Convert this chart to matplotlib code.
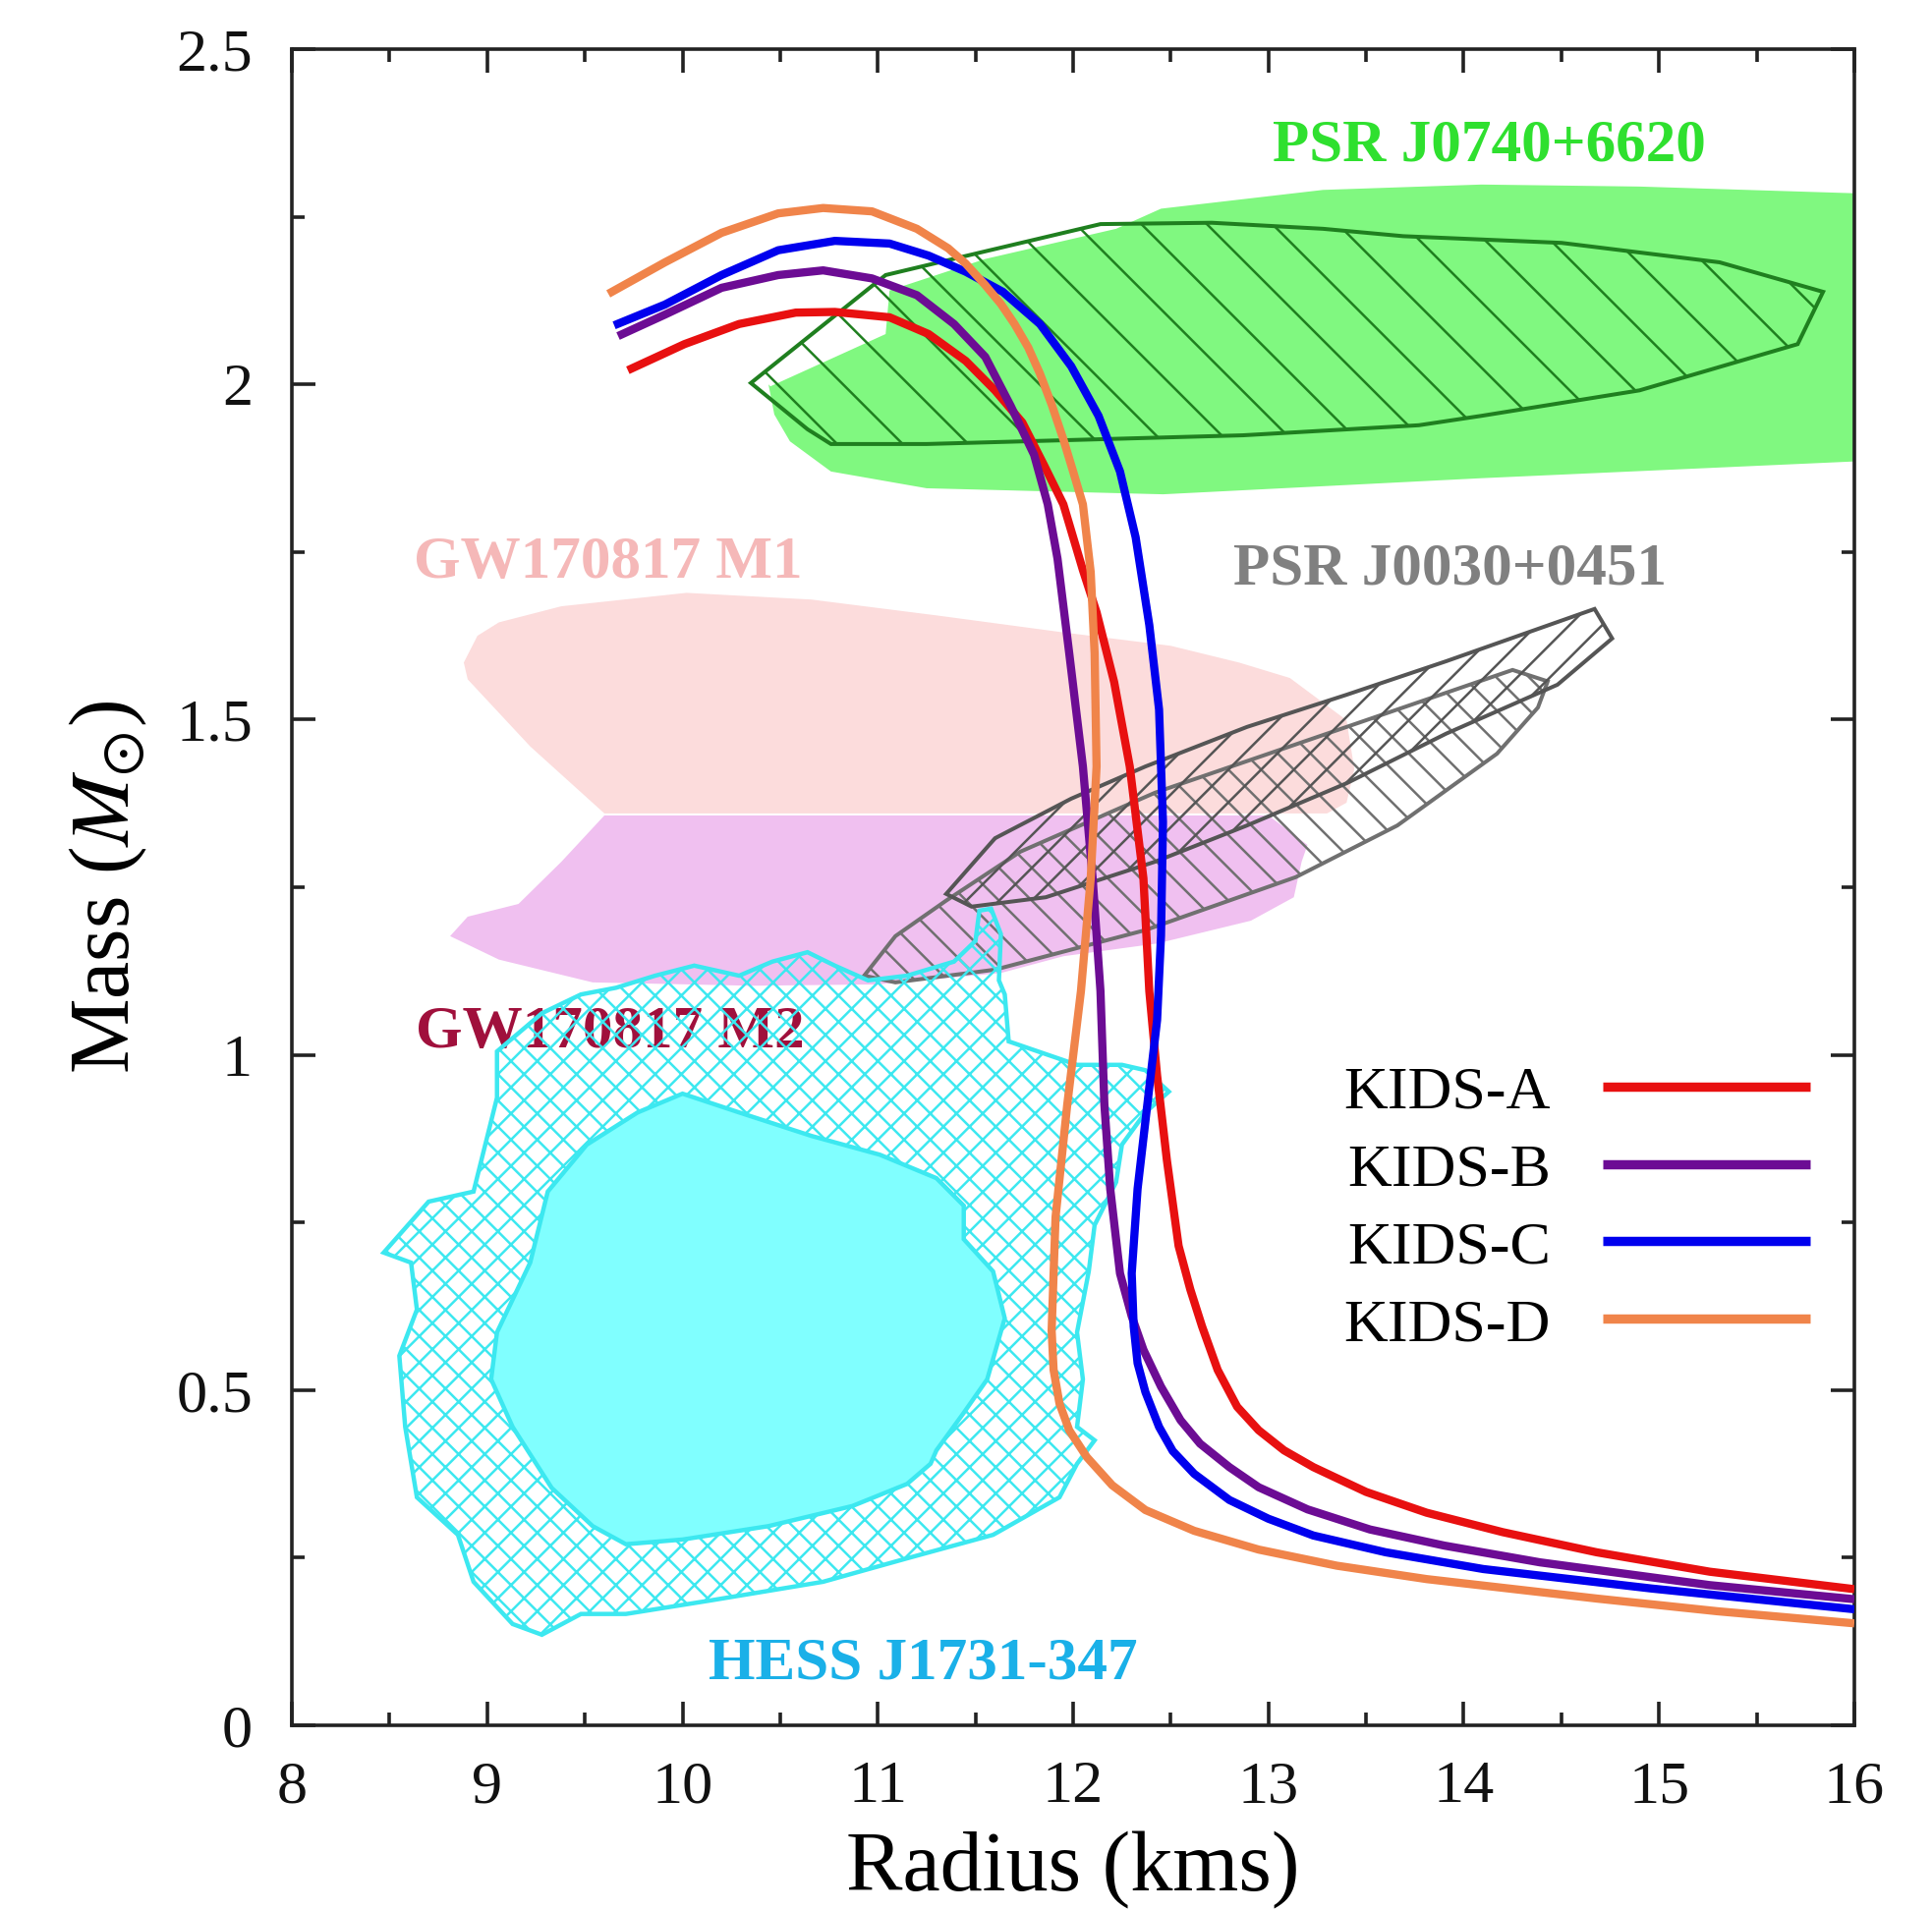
import matplotlib
matplotlib.use("Agg")
import matplotlib.pyplot as plt
from matplotlib.patches import Polygon
import numpy as np

plt.rcParams['font.family'] = ['Liberation Serif', 'DejaVu Serif']
plt.rcParams['mathtext.fontset'] = 'stix'
plt.rcParams['hatch.linewidth'] = 0.45

# mass-radius curves (R in km, M in Msun)
kids_a_r = [9.72, 10.01, 10.29, 10.58, 10.78, 11.06, 11.26, 11.45, 11.60, 11.74, 11.85, 11.95, 12.05,
            12.12, 12.21, 12.29, 12.36, 12.39, 12.43, 12.48, 12.54, 12.60, 12.66, 12.74, 12.84, 12.95,
            13.08, 13.23, 13.50, 13.81, 14.20, 14.68, 15.26, 16.0]
kids_a_m = [2.021, 2.060, 2.090, 2.107, 2.108, 2.100, 2.075, 2.035, 1.991, 1.943, 1.880, 1.821, 1.723,
            1.660, 1.556, 1.430, 1.263, 1.095, 0.969, 0.843, 0.715, 0.650, 0.595, 0.530, 0.475, 0.440,
            0.410, 0.385, 0.348, 0.317, 0.288, 0.258, 0.229, 0.203]

kids_b_r = [9.67, 9.91, 10.20, 10.49, 10.72, 10.97, 11.20, 11.39, 11.55, 11.68, 11.80, 11.87, 11.92,
            11.98, 12.05, 12.10, 12.14, 12.16, 12.19, 12.24, 12.30, 12.36, 12.45, 12.55, 12.65, 12.80,
            12.95, 13.20, 13.52, 13.90, 14.39, 15.26, 16.0]
kids_b_m = [2.072, 2.104, 2.144, 2.163, 2.170, 2.158, 2.133, 2.090, 2.041, 1.968, 1.895, 1.821, 1.740,
            1.599, 1.430, 1.263, 1.095, 0.926, 0.800, 0.674, 0.610, 0.560, 0.505, 0.455, 0.420, 0.385,
            0.355, 0.322, 0.292, 0.268, 0.243, 0.209, 0.188]

kids_c_r = [9.65, 9.91, 10.20, 10.49, 10.78, 11.06, 11.26, 11.45, 11.64, 11.83, 11.99, 12.13, 12.24,
            12.32, 12.39, 12.44, 12.46, 12.45, 12.43, 12.38, 12.33, 12.30, 12.31, 12.33, 12.37, 12.44,
            12.51, 12.62, 12.80, 13.00, 13.23, 13.60, 14.10, 14.96, 16.0]
kids_c_m = [2.088, 2.119, 2.163, 2.200, 2.214, 2.210, 2.192, 2.168, 2.138, 2.090, 2.027, 1.953, 1.870,
            1.772, 1.641, 1.515, 1.347, 1.178, 1.052, 0.926, 0.800, 0.674, 0.595, 0.540, 0.497, 0.445,
            0.409, 0.375, 0.336, 0.308, 0.283, 0.258, 0.233, 0.204, 0.173]

kids_d_r = [9.62, 9.91, 10.20, 10.49, 10.72, 10.97, 11.20, 11.36, 11.45, 11.55, 11.63, 11.70, 11.77,
            11.83, 11.89, 11.95, 12.00, 12.05, 12.09, 12.11, 12.12, 12.09, 12.04, 11.97, 11.91, 11.89,
            11.90, 11.93, 11.98, 12.07, 12.20, 12.37, 12.62, 12.95, 13.35, 13.81, 14.68, 15.30, 16.0]
kids_d_m = [2.135, 2.182, 2.226, 2.255, 2.263, 2.258, 2.232, 2.203, 2.180, 2.148, 2.120, 2.090, 2.055,
            2.016, 1.970, 1.918, 1.870, 1.821, 1.720, 1.599, 1.430, 1.263, 1.095, 0.926, 0.758, 0.589,
            0.530, 0.480, 0.440, 0.400, 0.358, 0.321, 0.290, 0.262, 0.238, 0.218, 0.189, 0.170, 0.152]

curve_labels = ['KIDS-A', 'KIDS-B', 'KIDS-C', 'KIDS-D']
curve_colors = ['#e81010', '#6c0c94', '#0000ee', '#f0844a']

# observational regions (R, M)
j0740_fill = [(10.44, 2.00), (10.47, 1.955), (10.55, 1.915), (10.76, 1.870), (11.25, 1.845),
              (12.46, 1.836), (14.09, 1.860), (16.0, 1.885), (16.0, 2.285), (14.90, 2.295),
              (14.09, 2.298), (13.28, 2.290), (12.45, 2.262), (12.22, 2.232), (11.55, 2.187),
              (11.06, 2.140), (11.04, 2.075), (10.45, 1.997)]
j0740_hatch = [(10.35, 2.002), (10.64, 1.933), (10.76, 1.911), (11.25, 1.911), (12.87, 1.924),
               (13.77, 1.939), (14.09, 1.953), (14.90, 1.991), (15.71, 2.060), (15.84, 2.138),
               (15.31, 2.182), (14.50, 2.211), (13.69, 2.221), (13.28, 2.232), (12.71, 2.241),
               (12.14, 2.239), (11.53, 2.197), (11.04, 2.163)]
gw_m1 = [(8.88, 1.585), (8.95, 1.625), (9.06, 1.645), (9.38, 1.669), (10.02, 1.689), (10.66, 1.679),
         (11.31, 1.655), (11.95, 1.630), (12.50, 1.610), (12.85, 1.585), (13.11, 1.562), (13.40, 1.499),
         (13.44, 1.426), (13.40, 1.376), (13.30, 1.360), (9.60, 1.360), (9.22, 1.460), (8.90, 1.560)]
gw_m2 = [(9.60, 1.357), (13.00, 1.357), (13.20, 1.313), (13.17, 1.288), (13.13, 1.235), (12.91, 1.200),
         (12.43, 1.166), (11.95, 1.147), (11.63, 1.122), (11.0, 1.105), (10.35, 1.103), (9.54, 1.108),
         (9.06, 1.142), (8.81, 1.177), (8.90, 1.206), (9.16, 1.225), (9.38, 1.288)]
j0030_a = [(11.35, 1.240), (11.60, 1.323), (11.99, 1.382), (12.37, 1.430), (12.89, 1.489), (13.40, 1.537),
           (13.91, 1.587), (14.67, 1.665), (14.76, 1.621), (14.48, 1.552), (13.91, 1.479), (13.40, 1.405),
           (12.89, 1.342), (12.42, 1.288), (11.86, 1.235), (11.48, 1.221)]
j0030_b = [(10.93, 1.118), (11.09, 1.177), (11.35, 1.230), (11.73, 1.303), (12.42, 1.391), (13.40, 1.489),
           (14.25, 1.574), (14.43, 1.557), (14.38, 1.518), (14.17, 1.449), (13.66, 1.342), (13.14, 1.265),
           (12.37, 1.186), (11.60, 1.127), (11.09, 1.108)]
hess_outer = [(9.66, 1.100), (9.86, 1.118), (10.06, 1.133), (10.29, 1.118), (10.46, 1.139), (10.64, 1.153),
              (10.78, 1.133), (10.95, 1.111), (11.15, 1.118), (11.39, 1.139), (11.50, 1.170), (11.52, 1.215),
              (11.58, 1.218), (11.63, 1.180), (11.62, 1.111), (11.65, 1.090), (11.67, 1.020), (11.88, 0.999),
              (12.02, 0.985), (12.25, 0.985), (12.37, 0.977), (12.49, 0.945), (12.37, 0.914), (12.25, 0.866),
              (12.22, 0.810), (12.11, 0.746), (12.08, 0.677), (12.02, 0.586), (12.05, 0.516), (12.02, 0.445),
              (12.11, 0.425), (12.02, 0.390), (11.93, 0.340), (11.59, 0.284), (11.15, 0.249), (10.72, 0.214),
              (10.14, 0.186), (9.71, 0.166), (9.48, 0.166), (9.28, 0.135), (9.13, 0.151), (8.93, 0.214),
              (8.85, 0.284), (8.64, 0.340), (8.58, 0.445), (8.55, 0.551), (8.64, 0.620), (8.61, 0.690),
              (8.47, 0.705), (8.70, 0.781), (8.93, 0.796), (8.99, 0.866), (9.05, 0.936), (9.05, 1.005),
              (9.28, 1.062), (9.48, 1.090)]
hess_inner = [(10.00, 0.942), (10.29, 0.914), (10.66, 0.879), (11.01, 0.851), (11.30, 0.816), (11.44, 0.775),
              (11.44, 0.725), (11.59, 0.677), (11.65, 0.607), (11.56, 0.516), (11.44, 0.466), (11.30, 0.410),
              (11.27, 0.390), (11.15, 0.360), (10.87, 0.327), (10.44, 0.297), (10.00, 0.277), (9.71, 0.270),
              (9.54, 0.297), (9.33, 0.354), (9.13, 0.445), (9.02, 0.516), (9.05, 0.586), (9.22, 0.690),
              (9.31, 0.796), (9.51, 0.866), (9.77, 0.914)]

region_names = ['PSR J0740+6620', 'GW170817 M1', 'PSR J0030+0451', 'GW170817 M2', 'HESS J1731-347']
region_label_r = [14.13, 9.62, 13.93, 9.63, 11.23]
region_label_m = [2.356, 1.733, 1.724, 1.033, 0.092]
region_label_colors = ['#2fe02f', '#f5b8b8', '#808080', '#a0103c', '#1ab0e8']

x_ticks = [8, 9, 10, 11, 12, 13, 14, 15, 16]
y_ticks = [0, 0.5, 1, 1.5, 2, 2.5]
y_tick_labels = ['0', '0.5', '1', '1.5', '2', '2.5']

DPI = 400
fig = plt.figure(figsize=(1966 / DPI, 1945 / DPI), dpi=DPI)
ax = fig.add_axes([0.1511, 0.0972, 0.8087, 0.8771])

ax.add_patch(Polygon(gw_m1, closed=True, facecolor='#fcdcdc', edgecolor='none', zorder=1))
ax.add_patch(Polygon(gw_m2, closed=True, facecolor='#f0c0f0', edgecolor='none', zorder=1))
ax.add_patch(Polygon(j0740_fill, closed=True, facecolor='#80f880', edgecolor='none', zorder=2))
ax.add_patch(Polygon(j0740_hatch, closed=True, facecolor='none', edgecolor='#1f7f1f',
                     linewidth=0.72, hatch='\\\\', zorder=2.2))
ax.add_patch(Polygon(j0030_b, closed=True, facecolor='none', edgecolor='#707070',
                     linewidth=0.72, hatch='\\\\\\\\', zorder=2.5))
ax.add_patch(Polygon(j0030_a, closed=True, facecolor='none', edgecolor='#555555',
                     linewidth=0.72, hatch='////', zorder=2.6))
ax.add_patch(Polygon(hess_outer, closed=True, facecolor='none', edgecolor='#3ce8f0',
                     linewidth=0.8, hatch='xxxxx', zorder=3))
ax.add_patch(Polygon(hess_inner, closed=True, facecolor='#80ffff', edgecolor='#3ce8f0',
                     linewidth=0.8, zorder=3.1))

for name, r, m, c in zip(region_names, region_label_r, region_label_m, region_label_colors):
    ax.text(r, m, name, color=c, fontsize=11, fontweight='bold', ha='center', va='center', zorder=1.5)

curves = [(kids_a_r, kids_a_m), (kids_b_r, kids_b_m), (kids_c_r, kids_c_m), (kids_d_r, kids_d_m)]
for (r, m), lab, c in zip(curves, curve_labels, curve_colors):
    ax.plot(r, m, color=c, linewidth=1.5, label=lab, zorder=4, solid_capstyle='butt',
            solid_joinstyle='round')

ax.set_xlim(8, 16)
ax.set_ylim(0, 2.5)
ax.set_xticks(x_ticks)
ax.set_xticklabels([str(t) for t in x_ticks])
ax.set_yticks(y_ticks)
ax.set_yticklabels(y_tick_labels)
ax.set_xticks(np.arange(8.5, 16, 1.0), minor=True)
ax.set_yticks(np.arange(0.25, 2.5, 0.5), minor=True)
ax.tick_params(which='both', direction='in', top=True, right=True, width=0.65, colors='#222222',
               labelsize=11.2, labelcolor='#111111')
ax.tick_params(which='major', length=4.4)
ax.tick_params(which='minor', length=2.3)
ax.tick_params(axis='x', pad=6.4)
ax.tick_params(axis='y', pad=7.2)
for s in ax.spines.values():
    s.set_linewidth(0.65)
    s.set_color('#222222')

ax.set_xlabel('Radius (kms)', fontsize=15.5, labelpad=3)
ax.set_ylabel(r'Mass ($M_{\odot}$)', fontsize=15.5, labelpad=5)

leg = ax.legend(loc='center right', bbox_to_anchor=(0.972, 0.308), frameon=False, markerfirst=False,
                fontsize=11.2, handlelength=3.4, handletextpad=0.85, labelspacing=0.36,
                borderpad=0, borderaxespad=0)
for line in leg.get_lines():
    line.set_linewidth(1.7)

fig.savefig('out.png', dpi=DPI)
